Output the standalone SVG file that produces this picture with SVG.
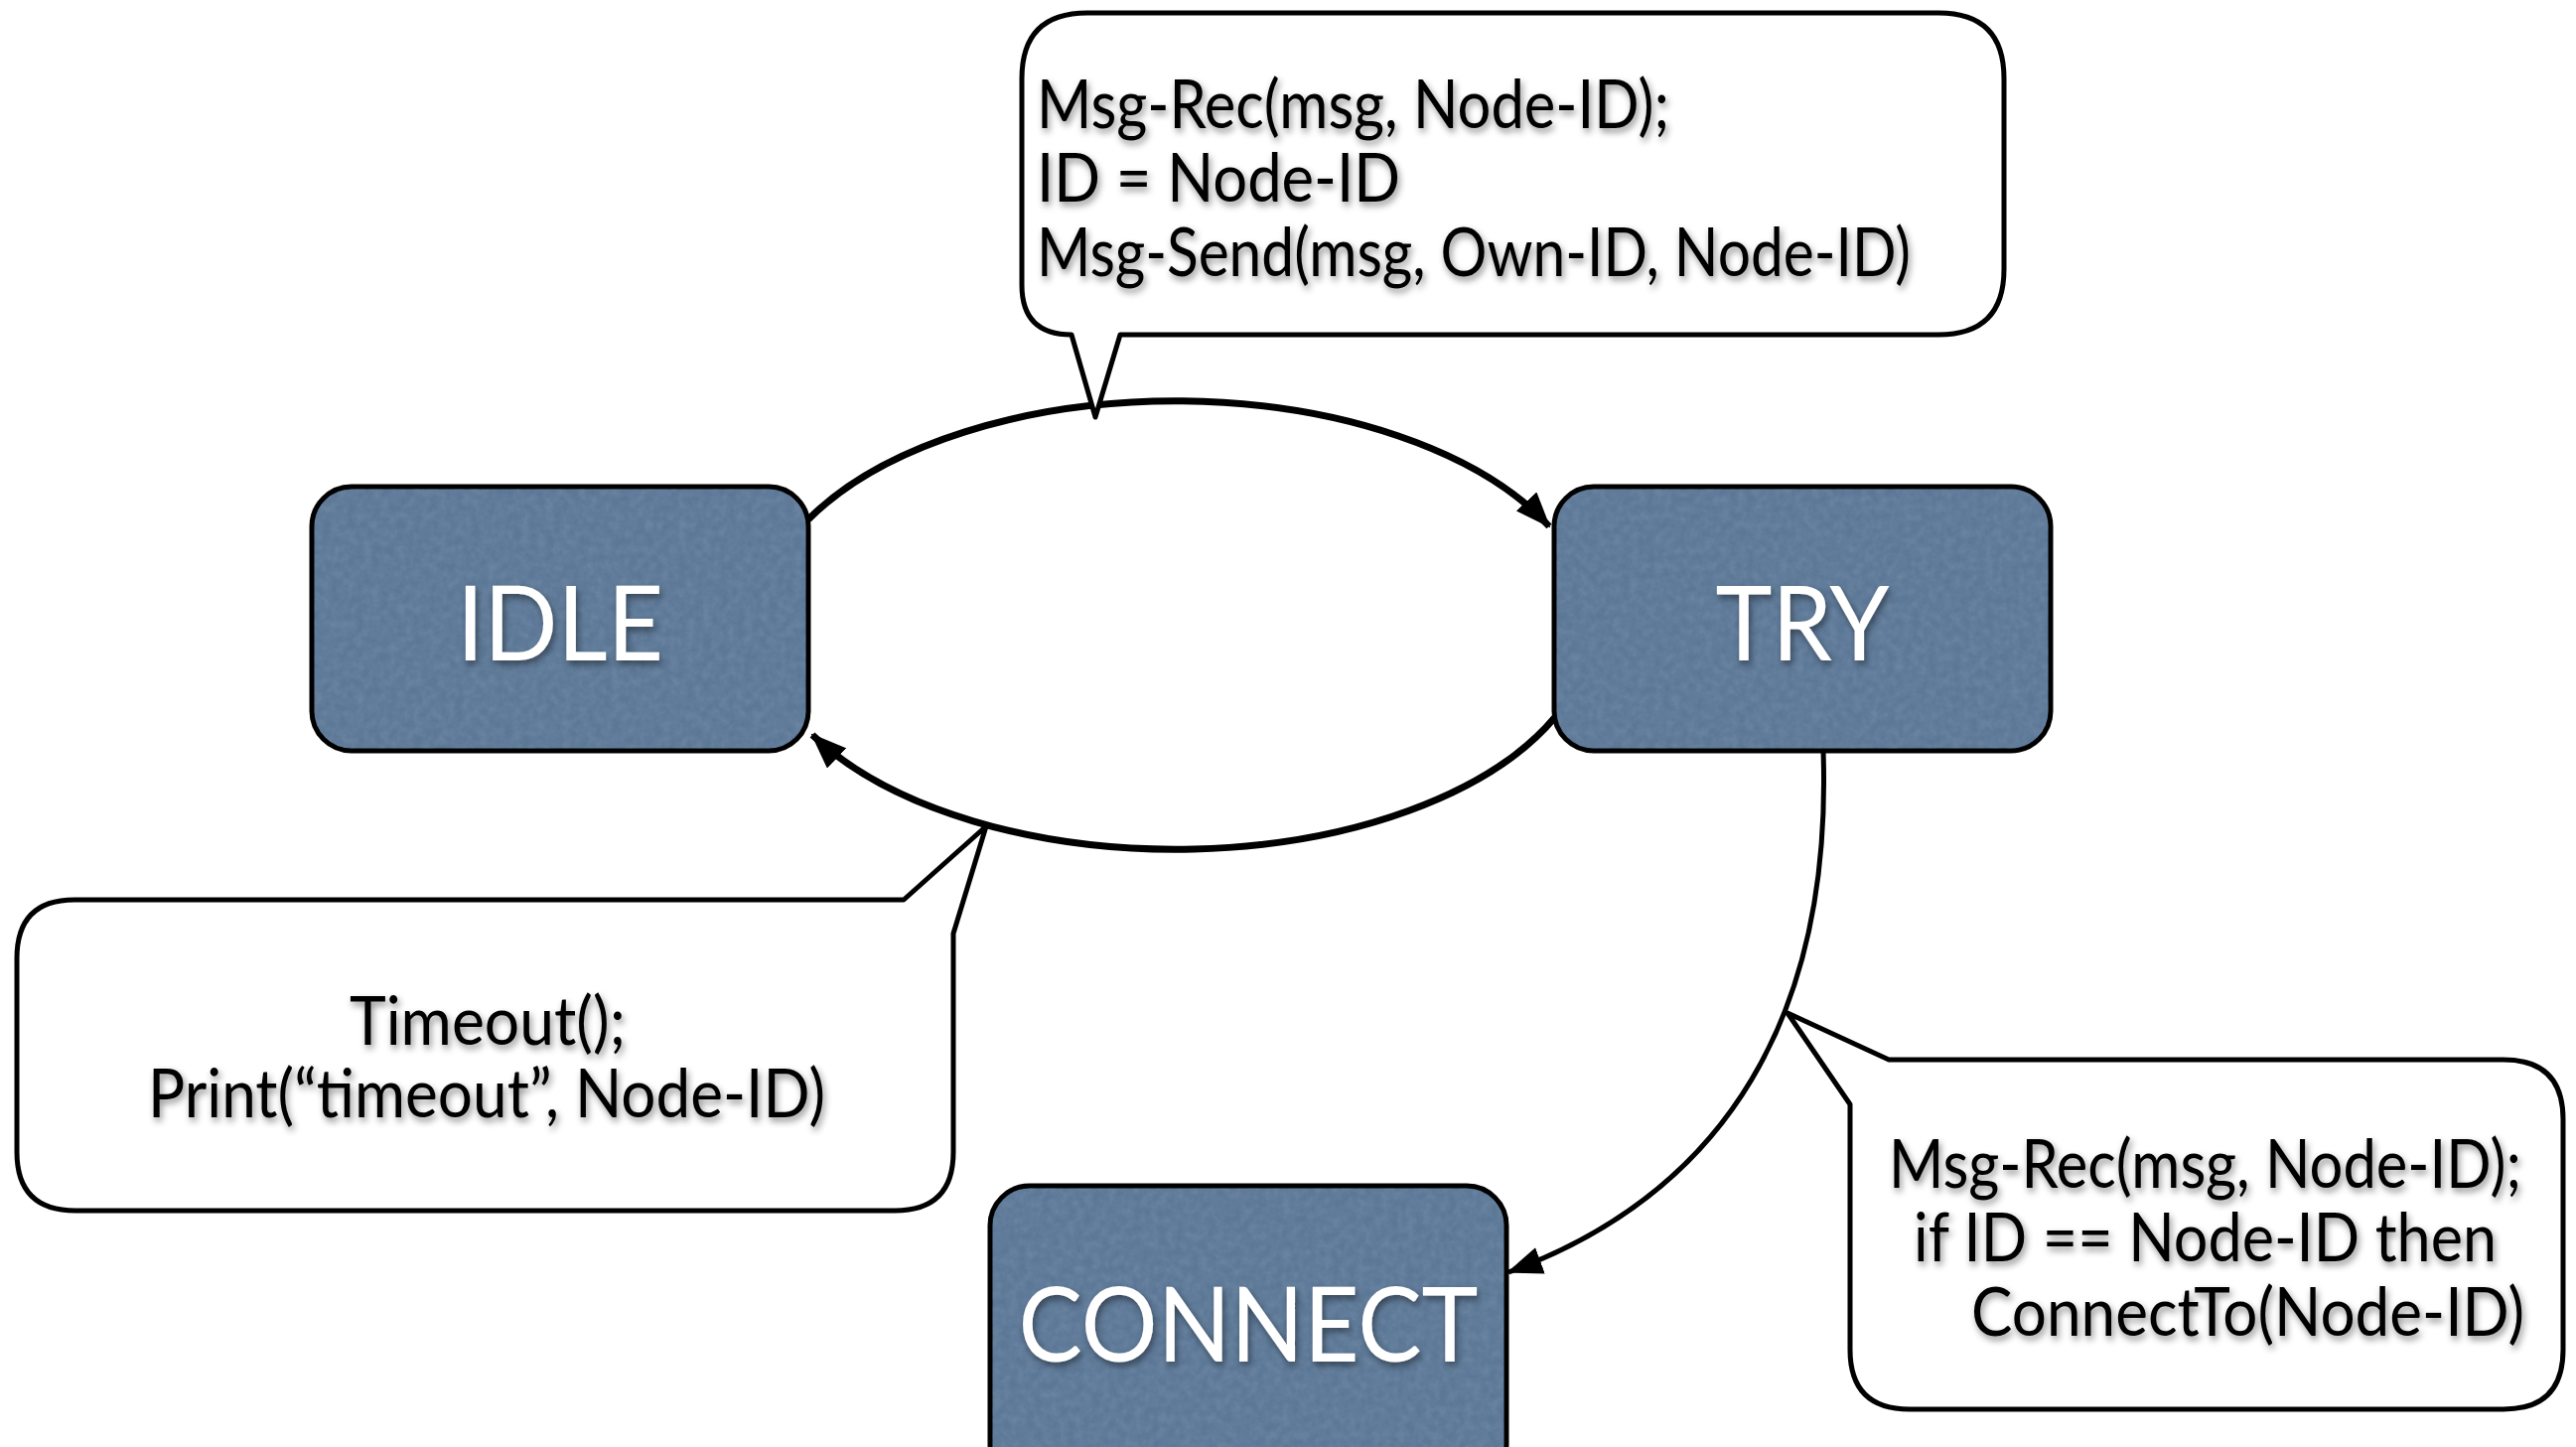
<svg xmlns="http://www.w3.org/2000/svg" width="2594" height="1457" viewBox="0 0 2594 1457">
  <style>
    .state { fill: #5b7796; stroke: #000; stroke-width: 5; }
    .state-label { font-family: Lato, "Open Sans", sans-serif; font-size: 104px; fill: #fff; text-anchor: middle; filter: url(#textShadow); }
    .bubble { fill: #fff; stroke: #000; stroke-width: 5; stroke-linejoin: round; }
    .note { font-family: Lato, "Open Sans", sans-serif; font-size: 67px; fill: #000; filter: url(#textShadow); }
    .edge { fill: none; stroke: #000; stroke-width: 7; }
    .edge-thin { fill: none; stroke: #000; stroke-width: 5; }
  </style>
  <defs>
    <filter id="textShadow" x="-10%" y="-30%" width="120%" height="170%">
      <feDropShadow dx="2" dy="4" stdDeviation="3.5" flood-color="#000" flood-opacity="0.45"/>
    </filter>
    <filter id="grain" x="0" y="0" width="100%" height="100%">
      <feTurbulence type="fractalNoise" baseFrequency="0.12" numOctaves="3" seed="4" result="noise"/>
      <feColorMatrix in="noise" type="matrix" values="0 0 0 0 0.85  0 0 0 0 0.9  0 0 0 0 1  0 0 0 0.16 -0.04"/>
      <feComposite in2="SourceGraphic" operator="in"/>
    </filter>
    <marker id="arrow" viewBox="0 0 36 28" refX="34" refY="14" markerWidth="36" markerHeight="28" markerUnits="userSpaceOnUse" orient="auto">
      <path d="M0,0 L36,14 L0,28 Z" fill="#000"/>
    </marker>
  </defs>

  <rect width="2594" height="1457" fill="#fff"/>

  <!-- transitions -->
  <g id="connectors">
    <path id="idle-to-try" class="edge" d="M814,523 A420,227 0 0 1 1560,530" marker-end="url(#arrow)"/>
    <path id="try-to-idle" class="edge" d="M1566,722 A420,227 0 0 1 818,740" marker-end="url(#arrow)"/>
    <path id="try-to-connect" class="edge-thin" d="M1836,756 C1845,1020 1740,1200 1519,1281" marker-end="url(#arrow)"/>
  </g>

  <!-- states -->
  <g id="node-idle">
    <rect class="state" x="314" y="490" width="500" height="266" rx="40"/>
    <rect x="316" y="492" width="496" height="262" rx="38" fill="#fff" filter="url(#grain)"/>
    <text class="state-label" x="564" y="665" textLength="208" lengthAdjust="spacingAndGlyphs">IDLE</text>
  </g>
  <g id="node-try">
    <rect class="state" x="1565" y="490" width="500" height="266" rx="40"/>
    <rect x="1567" y="492" width="496" height="262" rx="38" fill="#fff" filter="url(#grain)"/>
    <text class="state-label" x="1815" y="665" textLength="175" lengthAdjust="spacingAndGlyphs">TRY</text>
  </g>
  <g id="node-connect">
    <rect class="state" x="997" y="1194" width="520" height="300" rx="40"/>
    <rect x="999" y="1196" width="516" height="296" rx="38" fill="#fff" filter="url(#grain)"/>
    <text class="state-label" x="1257" y="1371" textLength="463" lengthAdjust="spacingAndGlyphs">CONNECT</text>
  </g>

  <!-- action callouts -->
  <g id="note-send">
    <path class="bubble" d="M1095,13 H1952 Q2018,13 2018,79 V271 Q2018,337 1952,337 H1128 L1103,420 L1079,337 Q1029,337 1029,287 V79 Q1029,13 1095,13 Z"/>
    <text class="note" x="1044" y="129" textLength="637" lengthAdjust="spacingAndGlyphs">Msg-Rec(msg, Node-ID);</text>
    <text class="note" x="1044" y="203" textLength="366" lengthAdjust="spacingAndGlyphs">ID = Node-ID</text>
    <text class="note" x="1044" y="278" textLength="880" lengthAdjust="spacingAndGlyphs">Msg-Send(msg, Own-ID, Node-ID)</text>
  </g>
  <g id="note-timeout">
    <path class="bubble" d="M75,906 H910 L993,832 L960,940 V1160 Q960,1219 901,1219 H76 Q17,1219 17,1160 V965 Q17,906 75,906 Z"/>
    <text class="note" x="491" y="1052" text-anchor="middle" textLength="278" lengthAdjust="spacingAndGlyphs">Timeout();</text>
    <text class="note" x="490" y="1125" text-anchor="middle" textLength="682" lengthAdjust="spacingAndGlyphs">Print(“timeout”, Node-ID)</text>
  </g>
  <g id="note-connect">
    <path class="bubble" d="M1902,1067 H2521 Q2581,1067 2581,1127 V1359 Q2581,1419 2521,1419 H1923 Q1863,1419 1863,1359 V1112 L1800,1020 Z"/>
    <text class="note" x="1902" y="1196" textLength="637" lengthAdjust="spacingAndGlyphs">Msg-Rec(msg, Node-ID);</text>
    <text class="note" x="1927" y="1270" textLength="587" lengthAdjust="spacingAndGlyphs">if ID == Node-ID then</text>
    <text class="note" x="1985" y="1345" textLength="557" lengthAdjust="spacingAndGlyphs">ConnectTo(Node-ID)</text>
  </g>
</svg>
